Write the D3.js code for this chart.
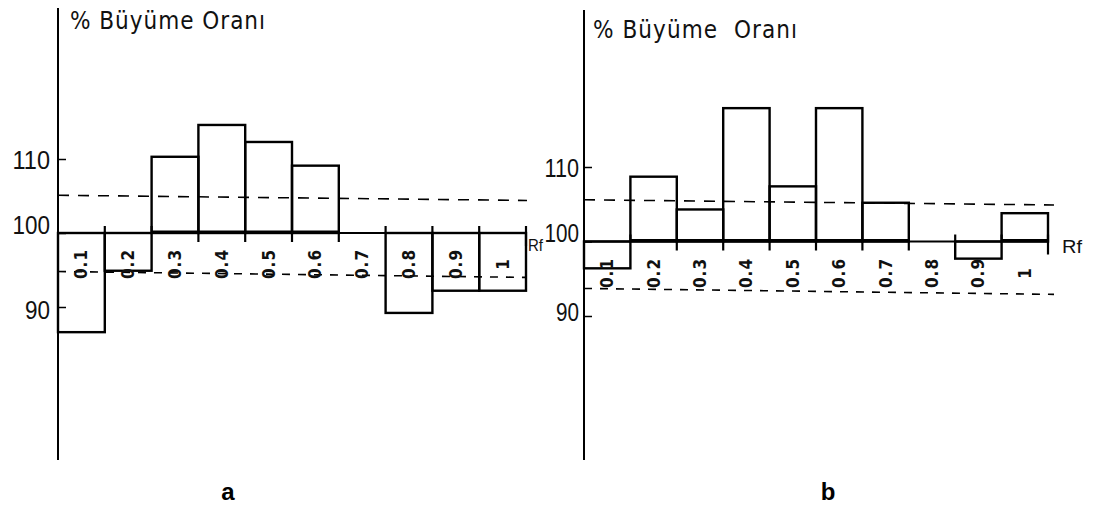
<!DOCTYPE html>
<html><head><meta charset="utf-8">
<script src="https://cdn.jsdelivr.net/npm/d3@7"></script>
<style>
html,body{margin:0;padding:0;background:#fff;}
svg{display:block;}
</style></head>
<body>
<svg id="chart" width="1095" height="513"></svg>
<script>
// ---- data ----
const categories = ["0.1","0.2","0.3","0.4","0.5","0.6","0.7","0.8","0.9","1"];
const valuesA = [86.6, 94.9, 110.3, 114.6, 112.3, 109.1, 100, 89.2, 92.2, 92.2];
const valuesB = [96.4, 108.7, 104.3, 117.9, 107.4, 117.9, 105.2, 100, 97.7, 103.8];
const yTicks = [90, 100, 110];
const baseValue = 100;
const upperDashA = [105.1, 104.4];
const lowerDashA = [94.8, 94.0];
const upperDashB = [105.6, 104.9];
const lowerDashB = [93.7, 92.9];
const titleA = "% Büyüme Oranı";
const titleB = "% Büyüme  Oranı";
const axisLabel = "Rf";
const panelLetters = ["a", "b"];

const svg = d3.select("#chart");
const FONT = "'DejaVu Sans Condensed','DejaVu Sans',sans-serif";
const TICKFONT = "'Liberation Sans',Arial,sans-serif";

function panel(opt) {
  const g = svg.append("g");
  const x = d3.scaleBand().domain(categories).range([opt.x0, opt.x1]).paddingInner(0).paddingOuter(0);
  const y = d3.scaleLinear().domain([90, 110]).range([opt.y90, opt.y110]);
  const y0 = y(baseValue);

  // vertical axis line
  g.append("line").attr("x1", opt.x0).attr("x2", opt.x0)
    .attr("y1", opt.top).attr("y2", 460)
    .attr("stroke", "#000").attr("stroke-width", 2);

  // y axis ticks (pointing inward)
  const ax = g.append("g").attr("transform", `translate(${opt.x0},0)`)
    .call(d3.axisLeft(y).tickValues(yTicks).tickSizeInner(-8).tickSizeOuter(0)
      .tickPadding(opt.tickPad).tickFormat(d3.format("d")));
  ax.select(".domain").remove();
  ax.selectAll(".tick line").attr("stroke", "#000").attr("stroke-width", 1.5);
  ax.selectAll(".tick text").attr("font-family", TICKFONT).attr("font-size", 26)
    .attr("fill", "#111")
    .attr("textLength", d => String(d).length * opt.digitW)
    .attr("lengthAdjust", "spacingAndGlyphs")
    .attr("dy", d => d === baseValue ? "0em" : "0.36em")
    .attr("y", d => d === 90 ? opt.ninetyDy : 0);

  // title
  g.append("text").attr("x", opt.x0 + opt.titleDx).attr("y", opt.titleY)
    .attr("font-family", FONT).attr("font-size", 24)
    .attr("textLength", opt.titleLen).attr("lengthAdjust", "spacing")
    .attr("fill", "#111").style("white-space", "pre").text(opt.title);

  // dashed reference lines
  [opt.upper, opt.lower].forEach((d, i) => {
    g.append("line").attr("x1", opt.x0).attr("x2", opt.dashEnd)
      .attr("y1", y(d[0])).attr("y2", y(d[1]))
      .attr("stroke", "#000").attr("stroke-width", 1.6)
      .attr("stroke-dasharray", i === 0 ? "11,9" : "8,8");
  });

  // bars
  g.selectAll("rect.bar").data(opt.values.map((v, i) => ({c: categories[i], v})))
    .join("rect").attr("class", "bar")
    .filter(d => d.v !== baseValue)
    .attr("x", d => x(d.c)).attr("width", x.bandwidth())
    .attr("y", d => Math.min(y(d.v), y0))
    .attr("height", d => Math.abs(y(d.v) - y0))
    .attr("fill", "none").attr("stroke", "#000").attr("stroke-width", 2.4);

  // baseline
  g.append("line").attr("x1", opt.x0).attr("x2", opt.x1)
    .attr("y1", y0).attr("y2", y0).attr("stroke", "#000").attr("stroke-width", 2.2);
  // thick bottoms for positive bars
  g.selectAll("line.thick").data(opt.values.map((v, i) => ({c: categories[i], v})).filter(d => d.v > baseValue))
    .join("line").attr("class", "thick")
    .attr("x1", d => x(d.c)).attr("x2", d => x(d.c) + x.bandwidth())
    .attr("y1", y0 - 1).attr("y2", y0 - 1).attr("stroke", "#000").attr("stroke-width", 3);

  // edge ticks
  d3.range(1, categories.length + 1).forEach(i => {
    const xe = i < categories.length ? x(categories[i]) : opt.x1;
    const left = opt.values[i - 1], right = opt.values[i];
    const neg = left < baseValue || (right !== undefined && right < baseValue);
    let ya, yb;
    if (i === categories.length) { ya = y0 - 7; yb = y0 + 13; }
    else if (neg) { ya = y0 - 7; yb = y0; }
    else { ya = y0; yb = y0 + 9; }
    g.append("line").attr("x1", xe).attr("x2", xe).attr("y1", ya).attr("y2", yb)
      .attr("stroke", "#000").attr("stroke-width", 2.2);
  });

  // category labels (rotated)
  g.selectAll("text.cat").data(categories).join("text").attr("class", "cat")
    .attr("transform", d => `translate(${x(d) + x.bandwidth() / 2},${opt.labelY}) rotate(-90)`)
    .attr("text-anchor", "middle").attr("dominant-baseline", "central")
    .attr("font-family", FONT).attr("font-size", 17).attr("font-weight", "bold")
    .attr("letter-spacing", 1)
    .attr("fill", "#111").text(d => d);

  // Rf label
  g.append("text").attr("x", opt.x1 + opt.rfDx).attr("y", y0 + opt.rfDy)
    .attr("font-family", TICKFONT).attr("font-size", opt.rfSize)
    .attr("textLength", opt.rfLen).attr("lengthAdjust", "spacingAndGlyphs")
    .attr("fill", "#111").text(axisLabel);

  // panel letter
  g.append("text").attr("x", opt.letterX).attr("y", 500).attr("text-anchor", "middle")
    .attr("font-family", "'Liberation Sans',Arial,sans-serif").attr("font-weight", "bold")
    .attr("font-size", 24).attr("fill", "#000").text(opt.letter);
}

panel({x0: 58, x1: 526, top: 8, y90: 307, y110: 159, values: valuesA, upper: upperDashA, lower: lowerDashA,
  dashEnd: 527, title: titleA, titleDx: 12, titleY: 29, titleLen: 195, labelY: 264, tickPad: 8, ninetyDy: 2,
  digitW: 12.5, rfDx: 2, rfDy: 18, rfSize: 17, rfLen: 15, letter: panelLetters[0], letterX: 228});
panel({x0: 584, x1: 1048, top: 10, y90: 316, y110: 167, values: valuesB, upper: upperDashB, lower: lowerDashB,
  dashEnd: 1054, title: titleB, titleDx: 9, titleY: 38, titleLen: 204, labelY: 273, tickPad: 5, ninetyDy: -5,
  digitW: 11.5, rfDx: 14, rfDy: 11, rfSize: 19, rfLen: 20, letter: panelLetters[1], letterX: 828});
</script>
</body></html>
